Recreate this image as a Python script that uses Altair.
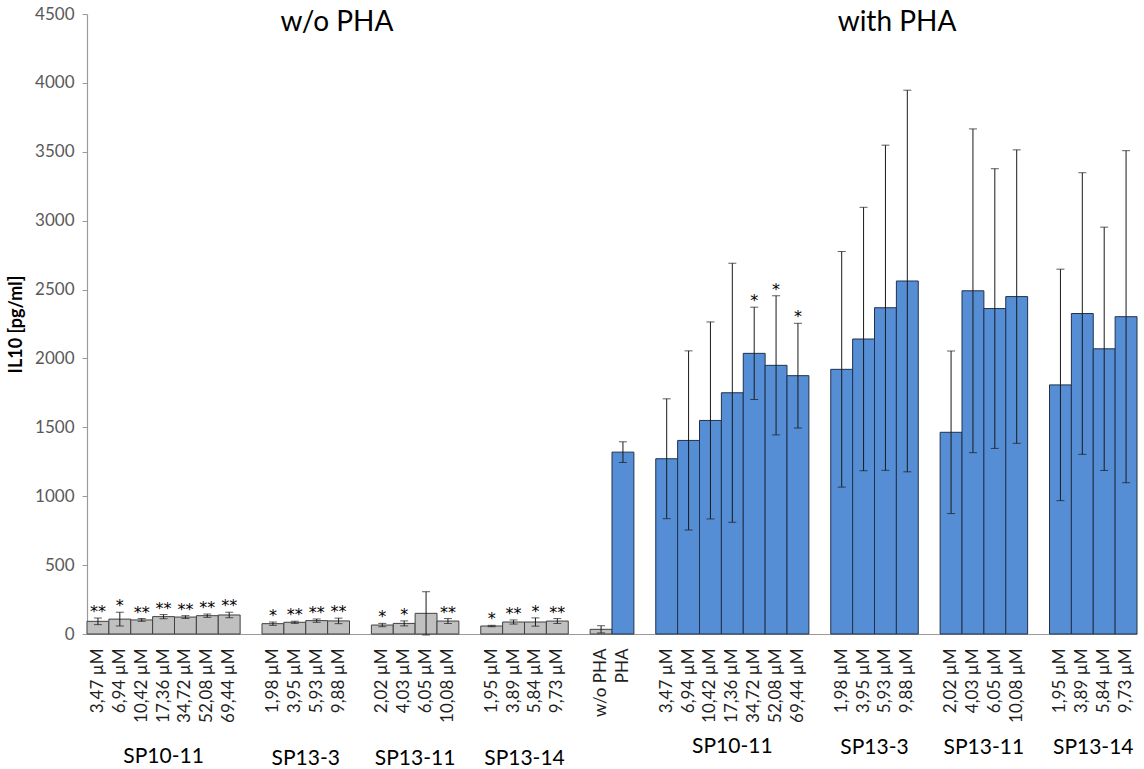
import json

import altair as alt
import pandas as pd

# ---- concentrations per compound ----
conc_sp10_11 = ["3,47 µM", "6,94 µM", "10,42 µM", "17,36 µM", "34,72 µM", "52,08 µM", "69,44 µM"]
conc_sp13_3 = ["1,98 µM", "3,95 µM", "5,93 µM", "9,88 µM"]
conc_sp13_11 = ["2,02 µM", "4,03 µM", "6,05 µM", "10,08 µM"]
conc_sp13_14 = ["1,95 µM", "3,89 µM", "5,84 µM", "9,73 µM"]
ctrl_labels = ["w/o PHA", "PHA"]

# ---- IL10 means (pg/ml) ----
wo_sp10_11 = [92, 108, 102, 126, 123, 133, 138]
wo_sp13_3 = [75, 85, 97, 95]
wo_sp13_11 = [65, 77, 150, 94]
wo_sp13_14 = [58, 87, 87, 94]
ctrl_mean = [34, 1320]
w_sp10_11 = [1272, 1405, 1550, 1751, 2037, 1950, 1875]
w_sp13_3 = [1921, 2141, 2368, 2562]
w_sp13_11 = [1464, 2491, 2362, 2449]
w_sp13_14 = [1808, 2326, 2070, 2303]

# ---- standard deviations ----
wo_sp10_11_sd = [24, 50, 10, 15, 10, 12, 20]
wo_sp13_3_sd = [12, 8, 12, 20]
wo_sp13_11_sd = [12, 18, 157, 18]
wo_sp13_14_sd = [5, 15, 30, 18]
ctrl_sd = [26, 75]
w_sp10_11_sd = [435, 650, 715, 940, 335, 505, 380]
w_sp13_3_sd = [855, 956, 1180, 1385]
w_sp13_11_sd = [590, 1175, 1015, 1065]
w_sp13_14_sd = [840, 1022, 883, 1205]

# ---- significance marks ----
wo_sp10_11_sig = ["**", "*", "**", "**", "**", "**", "**"]
wo_sp13_3_sig = ["*", "**", "**", "**"]
wo_sp13_11_sig = ["*", "*", "", "**"]
wo_sp13_14_sig = ["*", "**", "*", "**"]
ctrl_sig = ["", ""]
w_sp10_11_sig = ["", "", "", "", "*", "*", "*"]
w_sp13_3_sig = ["", "", "", ""]
w_sp13_11_sig = ["", "", "", ""]
w_sp13_14_sig = ["", "", "", ""]

GRAY, BLUE = "#c0c0c0", "#558ed5"
GRAY_EDGE, BLUE_EDGE = "#404040", "#22314c"

# (panel, compound, labels, means, sds, marks, PHA stimulated per bar)
groups = [
    ("left", "SP10-11", conc_sp10_11, wo_sp10_11, wo_sp10_11_sd, wo_sp10_11_sig, [False] * 7),
    ("left", "SP13-3", conc_sp13_3, wo_sp13_3, wo_sp13_3_sd, wo_sp13_3_sig, [False] * 4),
    ("left", "SP13-11", conc_sp13_11, wo_sp13_11, wo_sp13_11_sd, wo_sp13_11_sig, [False] * 4),
    ("left", "SP13-14", conc_sp13_14, wo_sp13_14, wo_sp13_14_sd, wo_sp13_14_sig, [False] * 4),
    ("ctrl", "", ctrl_labels, ctrl_mean, ctrl_sd, ctrl_sig, [False, True]),
    ("right", "SP10-11", conc_sp10_11, w_sp10_11, w_sp10_11_sd, w_sp10_11_sig, [True] * 7),
    ("right", "SP13-3", conc_sp13_3, w_sp13_3, w_sp13_3_sd, w_sp13_3_sig, [True] * 4),
    ("right", "SP13-11", conc_sp13_11, w_sp13_11, w_sp13_11_sd, w_sp13_11_sig, [True] * 4),
    ("right", "SP13-14", conc_sp13_14, w_sp13_14, w_sp13_14_sd, w_sp13_14_sig, [True] * 4),
]

rows, group_rows, tick_labels = [], [], []
slot = 0
for gi, (panel, name, labels, means, sds, marks, pha) in enumerate(groups):
    first = slot
    for lab, m, s, mk, p in zip(labels, means, sds, marks, pha):
        rows.append({
            "slot": slot, "mean": m, "lo": m - s, "hi": m + s, "mark": mk,
            "fill": BLUE if p else GRAY, "edge": BLUE_EDGE if p else GRAY_EDGE,
        })
        tick_labels.append(lab)
        slot += 1
    if name:
        n = len(labels)
        group_rows.append({"slot": first + (n - 1) // 2, "name": name,
                           "panel": panel, "odd": n % 2 == 1})
    if gi < len(groups) - 1:
        tick_labels.append("")  # empty category between groups
        slot += 1

n_slots = slot
bars_df = pd.DataFrame(rows)
names_df = pd.DataFrame(group_rows)

FONT = "Lato"
W, H = 1050, 620

x_enc = alt.X(
    "slot:O",
    scale=alt.Scale(domain=list(range(n_slots)), paddingInner=0, paddingOuter=0),
    axis=alt.Axis(
        title=None, labelAngle=-90, labelExpr=json.dumps(tick_labels, ensure_ascii=False) + "[datum.value]",
        labelFont=FONT, labelFontSize=17, labelColor="#1e1e1e", labelPadding=14,
        ticks=False, tickSize=0, domainColor="#9a9a9a", domainWidth=1.2, labelOverlap=False,
    ),
)
y_scale = alt.Scale(domain=[0, 4500], nice=False)

base = alt.Chart(bars_df)

bars = base.mark_bar(strokeWidth=1).encode(
    x=x_enc,
    y=alt.Y(
        "mean:Q", scale=y_scale,
        axis=alt.Axis(
            title="IL10 [pg/ml]", values=list(range(0, 4501, 500)), format="d", grid=False,
            labelFont=FONT, labelFontSize=17, labelColor="#595959", labelPadding=8,
            tickSize=5, tickColor="#9a9a9a", domainColor="#9a9a9a", domainWidth=1.2,
            titleFont=FONT, titleFontSize=18, titleFontWeight="bold", titleColor="#000000",
            titlePadding=9,
        ),
    ),
    color=alt.Color("fill:N", scale=None),
    stroke=alt.Stroke("edge:N", scale=None),
)

err = base.mark_rule(color="#1a1a1a", strokeWidth=1).encode(
    x="slot:O", y=alt.Y("lo:Q", scale=y_scale), y2="hi:Q"
)
cap_lo = base.mark_tick(color="#1a1a1a", thickness=1, size=8).encode(
    x="slot:O", y=alt.Y("lo:Q", scale=y_scale)
)
cap_hi = base.mark_tick(color="#1a1a1a", thickness=1, size=8).encode(
    x="slot:O", y=alt.Y("hi:Q", scale=y_scale)
)
stars = base.mark_text(font="DejaVu Sans", fontSize=16, color="#000000", baseline="alphabetic",
                       dy=-1).encode(
    x="slot:O", y=alt.Y("hi:Q", scale=y_scale), text="mark:N"
)


def name_layer(panel, odd, ypx):
    sub = names_df[(names_df["panel"] == panel) & (names_df["odd"] == odd)]
    return alt.Chart(sub).mark_text(
        font=FONT, fontSize=21, color="#000000", baseline="middle", align="center"
    ).encode(
        x=alt.X("slot:O", bandPosition=0.5 if odd else 1.0),
        y=alt.value(ypx),
        text="name:N",
    )


names = (
    name_layer("left", True, 743) + name_layer("left", False, 745)
    + name_layer("right", True, 733) + name_layer("right", False, 734)
)

blank = alt.Chart(alt.Data(values=[{}]))
title_wo = blank.mark_text(text="w/o PHA", font=FONT, fontSize=28, color="#000000",
                           baseline="middle").encode(x=alt.value(250), y=alt.value(9))
title_w = blank.mark_text(text="with PHA", font=FONT, fontSize=28, color="#000000",
                          baseline="middle").encode(x=alt.value(810), y=alt.value(9))

chart = (
    alt.layer(bars, err, cap_lo, cap_hi, stars, names, title_wo, title_w)
    .properties(
        width=W, height=H,
        autosize=alt.AutoSizeParams(type="none"),
        padding={"left": 87, "top": 14, "right": 7, "bottom": 135},
        background="#ffffff",
    )
    .configure_view(stroke=None)
)

chart.save("out.html", embed_options={"renderer": "svg", "actions": False})
